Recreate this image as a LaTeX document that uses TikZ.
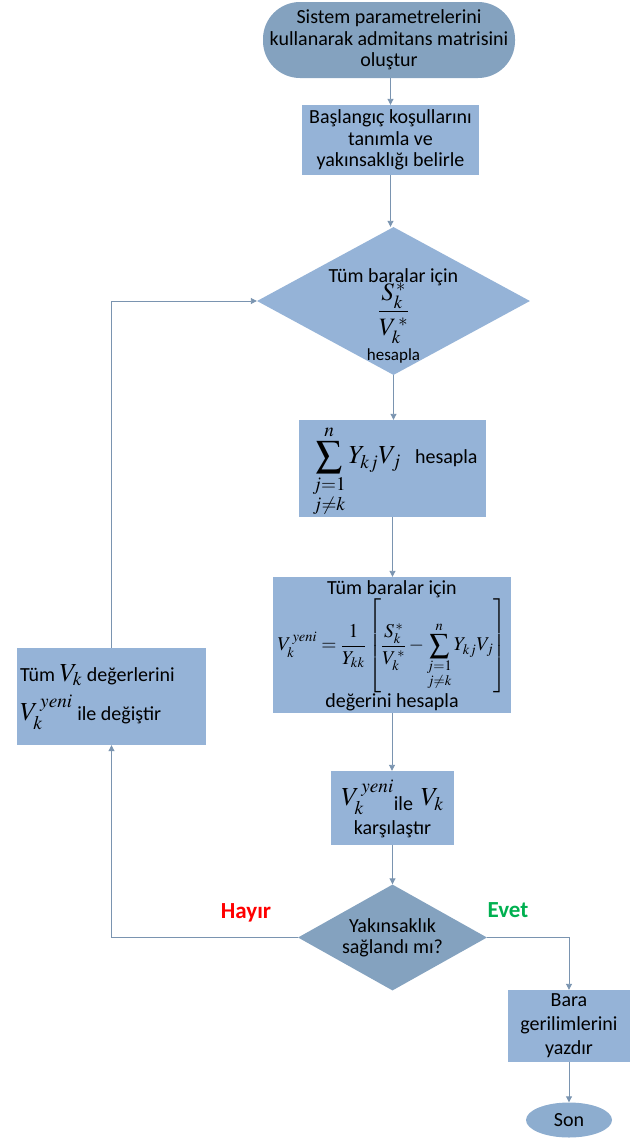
\documentclass[tikz,border=0pt]{standalone}
\usepackage{mathptmx}
\usepackage{amsmath}
\usepackage{fontspec}
\setmainfont{Carlito}
\usetikzlibrary{shapes.geometric,arrows.meta}
\definecolor{boxblue}{HTML}{95B3D7}
\definecolor{darkblue}{HTML}{84A2BF}
\definecolor{sonblue}{HTML}{8DADCF}
\definecolor{linec}{HTML}{7A94B0}
\definecolor{hayirred}{HTML}{FF0000}
\definecolor{evetgreen}{HTML}{00B050}
\tikzset{
  base/.style={inner sep=0pt, align=center, font=\fontsize{20}{21.5}\selectfont, text=black},
  procbox/.style={base, rectangle, fill=boxblue},
  termbox/.style={base, rectangle, rounded corners=37pt, fill=darkblue},
  decshape/.style={diamond, inner sep=0pt, fill=boxblue},
  txt/.style={base, fill=none},
  arr/.style={draw=linec, line width=0.9pt, -{Triangle[length=6pt,width=6pt]}},
}
\begin{document}
\begin{tikzpicture}[x=1pt,y=-1pt]
\useasboundingbox (0,0) rectangle (632,1138);
% start
\node[termbox, minimum width=252pt, minimum height=76pt] (start) at (389,40)
  {Sistem parametrelerini\\kullanarak admitans matrisini\\oluştur};
% init
\node[procbox, minimum width=177pt, minimum height=70pt] (init) at (390.5,140)
  {Başlangıç koşullarını\\tanımla ve\\yakınsaklığı belirle};
% diamond 1
\node[decshape, minimum width=273pt, minimum height=148pt] (d1) at (393.5,301) {};
\node[txt] (d1t) at (393.5,316) {Tüm baralar için\\[-4pt]
  {\fontsize{25}{27}\selectfont$\displaystyle\frac{S_k^{\,*}}{V_k^{\,*}}$}\\[4pt]
  {\fontsize{17}{18}\selectfont hesapla}};
% sum box
\node[procbox, minimum width=187pt, minimum height=97pt] (sumb) at (392.5,468.5) {};
\node[txt, anchor=center] (sumt) at (395,471)
  {{\fontsize{26}{28}\selectfont$\displaystyle\sum_{\substack{j=1\\ j\neq k}}^{n} Y_{kj}V_j$}\hspace{14pt}hesapla};
% formula box
\node[procbox, minimum width=238pt, minimum height=136pt] (form) at (392,645) {};
\node[txt] (formt) at (392,646) {Tüm baralar için\\[0pt]
  {\fontsize{19.5}{21}\selectfont$\displaystyle V_k^{\,yeni}=\frac{1}{Y_{kk}}\left[\frac{S_k^{\,*}}{V_k^{\,*}}-\sum\limits_{\substack{j=1\\ j\neq k}}^{n}Y_{kj}V_j\right]$}\\[0pt]
  değerini hesapla};
% update box (left)
\node[procbox, minimum width=189pt, minimum height=97pt] (upd) at (111.5,696.5) {};
\node[txt, align=left, anchor=west] (updt) at (20,697)
  {Tüm {\fontsize{26}{28}\selectfont$V_k$} değerlerini\\[8pt]
   {\fontsize{26}{28}\selectfont$V_k^{\,yeni}$} ile değiştir};
% compare box
\node[procbox, minimum width=123pt, minimum height=74pt] (cmp) at (392.5,808) {};
\node[txt] (cmpt) at (392.5,809)
  {{\fontsize{26}{28}\selectfont$V_k^{\,yeni}$}\raisebox{-5pt}{ile}\hspace{8pt}{\fontsize{26}{28}\selectfont$V_k$}\\[5pt]
   karşılaştır};
% decision
\node[decshape, fill=darkblue, minimum width=189pt, minimum height=106pt] (dec) at (392.5,937.5) {};
\node[txt] (dect) at (392.5,938) {Yakınsaklık\\sağlandı mı?};
% bara
\node[procbox, minimum width=122pt, minimum height=72pt, font=\fontsize{20}{24}\selectfont] (bara) at (569,1026) {Bara\\gerilimlerini\\yazdır};
% son
\node[ellipse, fill=sonblue, inner sep=0pt, minimum width=86pt, minimum height=35pt, font=\fontsize{20}{22}\selectfont] (son) at (569,1120) {Son};
% labels
\node[txt, font=\fontsize{23}{24}\selectfont\bfseries, text=hayirred] (hayir) at (246,913) {Hayır};
\node[txt, font=\fontsize{23}{24}\selectfont\bfseries, text=evetgreen] (evet) at (508,910) {Evet};
% connectors
\draw[arr] (start.south -| init.north) -- (init.north);
\draw[arr] (init.south) -- (init.south |- d1.north);
\draw[arr] (d1.south) -- (d1.south |- sumb.north);
\draw[arr] (sumb.south) -- (sumb.south |- form.north);
\draw[arr] (form.south) -- (form.south |- cmp.north);
\draw[arr] (cmp.south) -- (cmp.south |- dec.north);
\draw[arr] (dec.east) -| (bara.north);
\draw[arr] (bara.south) -- (son.north);
\draw[arr] (dec.west) -| (upd.south);
\draw[arr] (upd.north) |- (d1.west);
\end{tikzpicture}
\end{document}
